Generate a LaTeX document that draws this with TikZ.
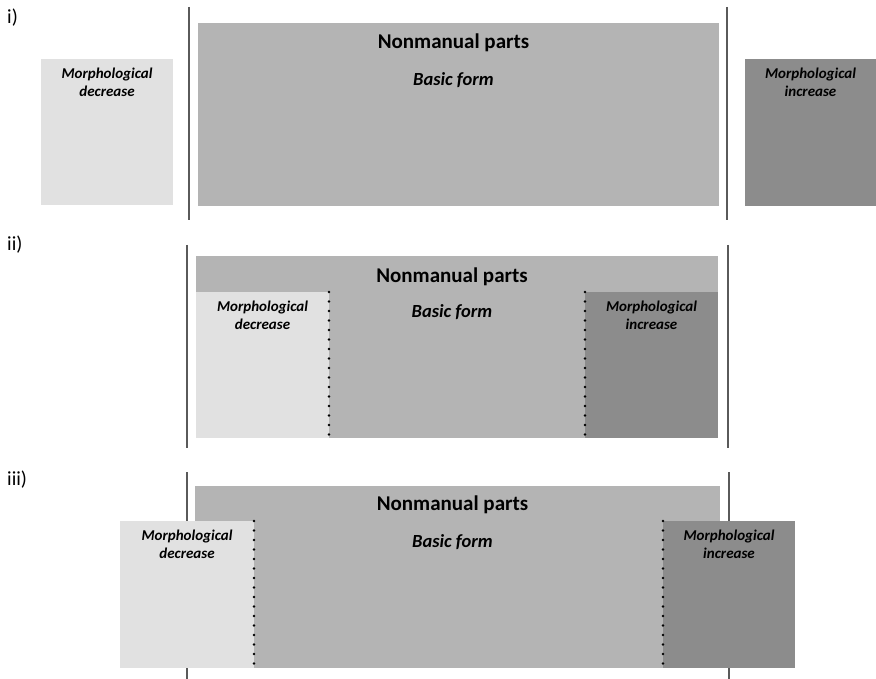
\documentclass[tikz,border=0pt]{standalone}
\usepackage{fontspec}
\setmainfont{Carlito}
\usetikzlibrary{positioning}
\definecolor{lightgrey}{HTML}{E1E1E1}
\definecolor{midgrey}{HTML}{B4B4B4}
\definecolor{darkgrey}{HTML}{8C8C8C}
\definecolor{linegrey}{HTML}{5A5A5A}

\begin{document}
\begin{tikzpicture}[
  x=1pt,y=1pt,
  box/.style={anchor=north west,inner sep=0pt,outer sep=0pt},
  part/.style={font=\fontsize{15}{18}\selectfont\bfseries\itshape,align=center,inner sep=0pt},
  title/.style={font=\fontsize{21}{24}\selectfont\bfseries,inner sep=0pt},
  form/.style={font=\fontsize{18.5}{20}\selectfont\bfseries\itshape,inner sep=0pt},
  panel/.style={font=\fontsize{20}{22}\selectfont,anchor=west,inner sep=0pt},
  border/.style={draw=linegrey,line width=1.8pt},
  edge/.style={draw=black,line width=2.8pt,dash pattern=on 0pt off 9.5pt,line cap=round}
]
\useasboundingbox (0,0) rectangle (876,-679);

% i) parts side by side
\node[panel] (lab1) at (7,-18) {i)};
\draw[border] (189,-7) -- (189,-220);
\draw[border] (727,-7) -- (727,-220);
\node[box,fill=lightgrey,minimum width=132pt,minimum height=146pt] (dec1) at (41,-59) {};
\node[box,fill=midgrey,minimum width=521pt,minimum height=183pt] (base1) at (198,-23) {};
\node[box,fill=darkgrey,minimum width=131pt,minimum height=147pt] (inc1) at (745,-59) {};
\node[title] (nm1) at ([xshift=-5pt,yshift=-20pt]base1.north) {Nonmanual parts};
\node[form] (bf1) at ([xshift=-5pt,yshift=-57pt]base1.north) {Basic form};
\node[part] (dt1) at ([yshift=-23pt]dec1.north) {Morphological\\decrease};
\node[part] (it1) at ([yshift=-23pt]inc1.north) {Morphological\\increase};

% ii) parts inside the basic form
\node[panel] (lab2) at (7,-245) {ii)};
\draw[border] (187,-245) -- (187,-448);
\draw[border] (728,-245) -- (728,-448);
\node[box,fill=midgrey,minimum width=522pt,minimum height=182pt] (base2) at (196,-256) {};
\node[box,fill=lightgrey,minimum width=133pt,minimum height=146pt] (dec2) at (196,-292) {};
\node[box,fill=darkgrey,minimum width=133pt,minimum height=146pt] (inc2) at (585,-292) {};
\draw[edge] (dec2.north east) -- (dec2.south east);
\draw[edge] (inc2.north west) -- (inc2.south west);
\node[title] (nm2) at ([xshift=-5pt,yshift=-21pt]base2.north) {Nonmanual parts};
\node[form] (bf2) at ([xshift=-5pt,yshift=-56pt]base2.north) {Basic form};
\node[part] (dt2) at ([yshift=-23pt]dec2.north) {Morphological\\decrease};
\node[part] (it2) at ([yshift=-23pt]inc2.north) {Morphological\\increase};

% iii) parts reaching outside
\node[panel] (lab3) at (7,-480) {iii)};
\draw[border,line width=1.3pt] (187,-472) -- (187,-679);
\draw[border,line width=1.3pt] (729,-472) -- (729,-679);
\node[box,fill=midgrey,minimum width=525pt,minimum height=182pt] (base3) at (195,-486) {};
\node[box,fill=lightgrey,minimum width=134pt,minimum height=147pt] (dec3) at (120,-521) {};
\node[box,fill=darkgrey,minimum width=132pt,minimum height=147pt] (inc3) at (663,-521) {};
\draw[edge] (dec3.north east) -- (dec3.south east);
\draw[edge] (inc3.north west) -- (inc3.south west);
\node[title] (nm3) at ([xshift=-5pt,yshift=-19pt]base3.north) {Nonmanual parts};
\node[form] (bf3) at ([xshift=-5pt,yshift=-56pt]base3.north) {Basic form};
\node[part] (dt3) at ([yshift=-23pt]dec3.north) {Morphological\\decrease};
\node[part] (it3) at ([yshift=-23pt]inc3.north) {Morphological\\increase};
\end{tikzpicture}
\end{document}
